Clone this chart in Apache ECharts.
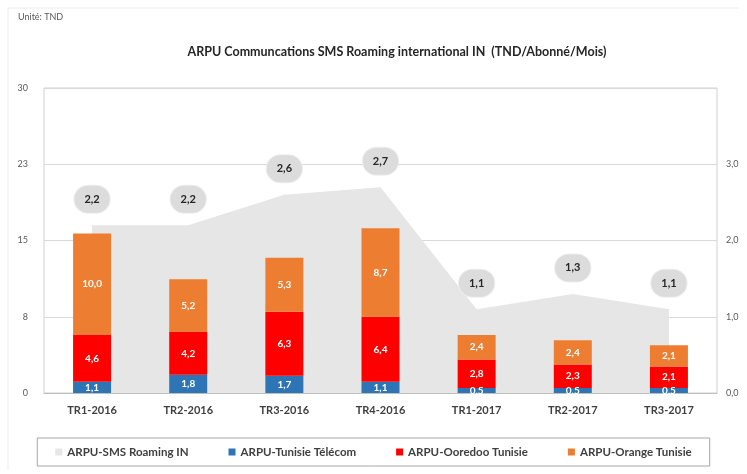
<!DOCTYPE html>
<html><head><meta charset="utf-8">
<script src="https://cdn.jsdelivr.net/npm/echarts@6/dist/echarts.min.js"></script>
<style>html,body{margin:0;padding:0;background:#fff}#c{width:747px;height:474px}</style>
</head><body><div id="c"></div>
<script>
const categories = ['TR1-2016','TR2-2016','TR3-2016','TR4-2016','TR1-2017','TR2-2017','TR3-2017'];
const smsRoamingIn = [2.2, 2.2, 2.6, 2.7, 1.1, 1.3, 1.1];
const tunisieTelecom = [1.1, 1.8, 1.7, 1.1, 0.5, 0.5, 0.5];
const ooredoo = [4.6, 4.2, 6.3, 6.4, 2.8, 2.3, 2.1];
const orange = [10.0, 5.2, 5.3, 8.7, 2.4, 2.4, 2.1];
const seriesNames = ['ARPU-SMS Roaming IN','ARPU-Tunisie Télécom','ARPU-Ooredoo Tunisie','ARPU-Orange Tunisie'];

const FONT = 'Lato';
const fmt = v => Number(v).toFixed(1).replace('.', ',');
const chart = echarts.init(document.getElementById('c'));
const barLabel = {show:true, position:'inside', color:'#fff', fontSize:10, fontWeight:'bold', fontFamily:FONT, formatter:p=>fmt(p.value)};
chart.setOption({
  animation:false,
  textStyle:{fontFamily:FONT},
  graphic:[{type:'line', shape:{x1:8,y1:8,x2:8,y2:470}, style:{stroke:'#ececec', lineWidth:1}, silent:true},
           {type:'line', shape:{x1:8,y1:8,x2:739,y2:8}, style:{stroke:'#ececec', lineWidth:1}, silent:true},
           {type:'text', left:18, top:13, style:{text:'Unité: TND', fontSize:9, fill:'#595959', fontFamily:FONT}}],
  title:{text:'ARPU Communcations SMS Roaming international IN  (TND/Abonné/Mois)', left:392, top:40, textAlign:'center',
    textStyle:{fontSize:12.5, fontWeight:'bold', color:'#262626', fontFamily:FONT}},
  legend:{bottom:8, left:'center', itemWidth:7, itemHeight:7, itemGap:40, icon:'rect',
    borderColor:'#a6a6a6', borderWidth:1, padding:[8,18],
    textStyle:{fontSize:11.5, fontWeight:'bold', color:'#404040', fontFamily:FONT},
    data:seriesNames},
  grid:{left:44, right:30, top:88, bottom:81, show:true, borderColor:'#d0d0d0', borderWidth:1},
  xAxis:{type:'category', data:categories, axisTick:{show:false}, axisLine:{lineStyle:{color:'#bfbfbf'}},
    axisLabel:{fontSize:11, fontWeight:'bold', color:'#404040', margin:12, fontFamily:FONT}},
  yAxis:[
    {type:'value', min:0, max:30, interval:7.5, axisLine:{show:false}, axisTick:{show:false},
      splitLine:{lineStyle:{color:'#d9d9d9'}},
      axisLabel:{fontSize:9, color:'#595959', formatter:v=>String(Math.round(v)), margin:16}},
    {type:'value', min:0, max:4, interval:1, axisLine:{show:false}, axisTick:{show:false}, splitLine:{show:false},
      axisLabel:{fontSize:9, color:'#595959', formatter:v=>v===4?'':fmt(v), margin:9}}
  ],
  series:[
    {name:seriesNames[0], type:'line', yAxisIndex:1, data:smsRoamingIn, symbol:'circle', symbolSize:1, showSymbol:true,
      lineStyle:{width:0, color:'#E7E6E6'},
      itemStyle:{color:'#E7E6E6'}, areaStyle:{color:'#E7E6E6', opacity:1}, z:1,
      label:{show:true, position:'top', distance:12, formatter:p=>fmt(p.value), fontSize:11, fontWeight:'bold', color:'#262626',
        backgroundColor:'#dcdcdc', borderRadius:14, padding:[8,10], borderColor:'#efefef', borderWidth:1}},
    {name:seriesNames[1], type:'bar', stack:'a', data:tunisieTelecom, barWidth:38, itemStyle:{color:'#2E75B6'}, label:barLabel, z:3},
    {name:seriesNames[2], type:'bar', stack:'a', data:ooredoo, itemStyle:{color:'#FF0000'}, label:barLabel, z:3},
    {name:seriesNames[3], type:'bar', stack:'a', data:orange, itemStyle:{color:'#ED7D31'}, label:barLabel, z:3}
  ]
});
</script></body></html>
